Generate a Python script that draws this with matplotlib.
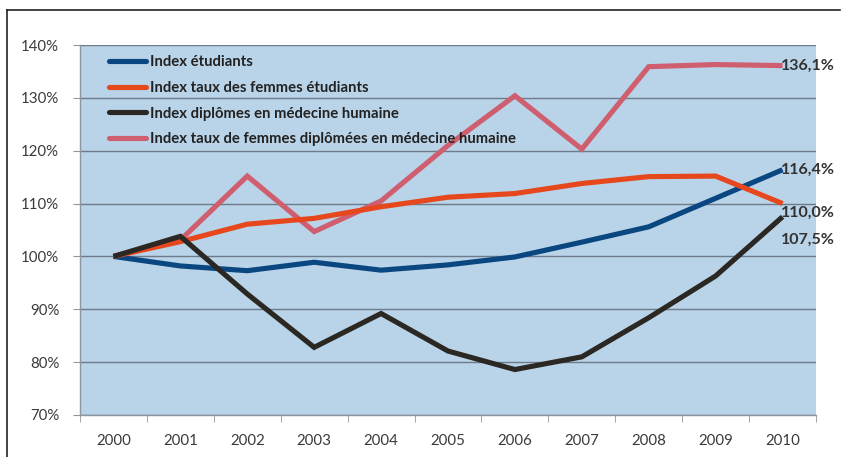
import matplotlib
matplotlib.use("Agg")
import matplotlib.pyplot as plt
from matplotlib.lines import Line2D

years = ["2000", "2001", "2002", "2003", "2004", "2005", "2006", "2007", "2008", "2009", "2010"]
etudiants = [100.0, 98.2, 97.3, 98.9, 97.4, 98.4, 99.9, 102.7, 105.6, 111.0, 116.4]
femmes_etudiants = [100.0, 102.8, 106.1, 107.2, 109.4, 111.2, 111.9, 113.8, 115.1, 115.2, 110.0]
diplomes = [100.0, 103.8, 92.9, 82.8, 89.2, 82.1, 78.6, 81.0, 88.4, 96.3, 107.5]
femmes_diplomees = [100.0, 103.1, 115.2, 104.7, 110.5, 121.0, 130.4, 120.3, 135.9, 136.3, 136.1]

series_names = [
    "Index étudiants",
    "Index taux des femmes étudiants",
    "Index diplômes en médecine humaine",
    "Index taux de femmes diplômées en médecine humaine",
]
end_labels = ["116,4%", "110,0%", "107,5%", "136,1%"]
yticks = [70, 80, 90, 100, 110, 120, 130, 140]

colors = ["#0A4680", "#E6471D", "#2B2722", "#CF5E6F"]

plt.rcParams['font.family'] = ['Lato', 'DejaVu Sans']

fig = plt.figure(figsize=(8.46, 4.57), dpi=100)
fig.patch.set_facecolor("white")
ax = fig.add_axes([80 / 846, 42 / 457, 736 / 846, 370 / 457])
ax.set_facecolor("#B9D3E8")

x = list(range(len(years)))
data = [etudiants, femmes_etudiants, diplomes, femmes_diplomees]
order = [3, 0, 1, 2]
for i in order:
    ax.plot(x, data[i], color=colors[i], lw=3.7, solid_joinstyle="miter",
            solid_capstyle="butt", zorder=3)

ax.set_xlim(-0.5, len(years) - 0.5)
ax.set_ylim(70, 140)
ax.set_yticks(yticks)
ax.set_yticklabels([f"{v}%" for v in yticks])
ax.set_xticks(x)
ax.set_xticklabels(years)
ax.set_xticks([i - 0.5 for i in range(len(years) + 1)], minor=True)

ax.grid(axis="y", color="#6D7B8A", lw=1.0, zorder=1)
ax.set_axisbelow(True)

for s in ["top", "right"]:
    ax.spines[s].set_visible(False)
ax.spines["left"].set_color("#8E969E")
ax.spines["bottom"].set_color("#8E969E")
ax.spines["left"].set_linewidth(1.0)
ax.spines["bottom"].set_linewidth(1.0)

ax.tick_params(axis="y", which="major", length=5, color="#8E969E", pad=10,
               labelsize=10.8, labelcolor="#3A3A3A")
ax.tick_params(axis="x", which="major", length=0, pad=14,
               labelsize=10.8, labelcolor="#3A3A3A")
ax.tick_params(axis="x", which="minor", length=5, color="#8E969E")

offsets = {0: 0.0, 1: -1.8, 2: -4.4, 3: 0.0}
for i in range(4):
    ax.text(x[-1] - 0.02, data[i][-1] + offsets[i], end_labels[i],
            ha="left", va="center", fontsize=11.5, fontweight="bold",
            color="#333333", zorder=5, clip_on=False)

handles = [Line2D([0], [0], color=c, lw=3.7, solid_capstyle="round") for c in colors]
leg = ax.legend(handles, series_names, loc="upper left",
                bbox_to_anchor=(0.025, 1.0), frameon=False,
                prop={"size": 10.7, "weight": "bold"}, handlelength=2.5,
                handletextpad=0.25, labelspacing=0.78, borderaxespad=0.3)
for t in leg.get_texts():
    t.set_color("#222222")

fig.add_artist(Line2D([7 / 846, 7 / 846], [0, 1 - 10 / 457], transform=fig.transFigure,
                      color="#222222", lw=1.2))
fig.add_artist(Line2D([7 / 846, 840 / 846], [1 - 10 / 457, 1 - 10 / 457],
                      transform=fig.transFigure, color="#222222", lw=1.2))

fig.savefig("out.png", dpi=100)
